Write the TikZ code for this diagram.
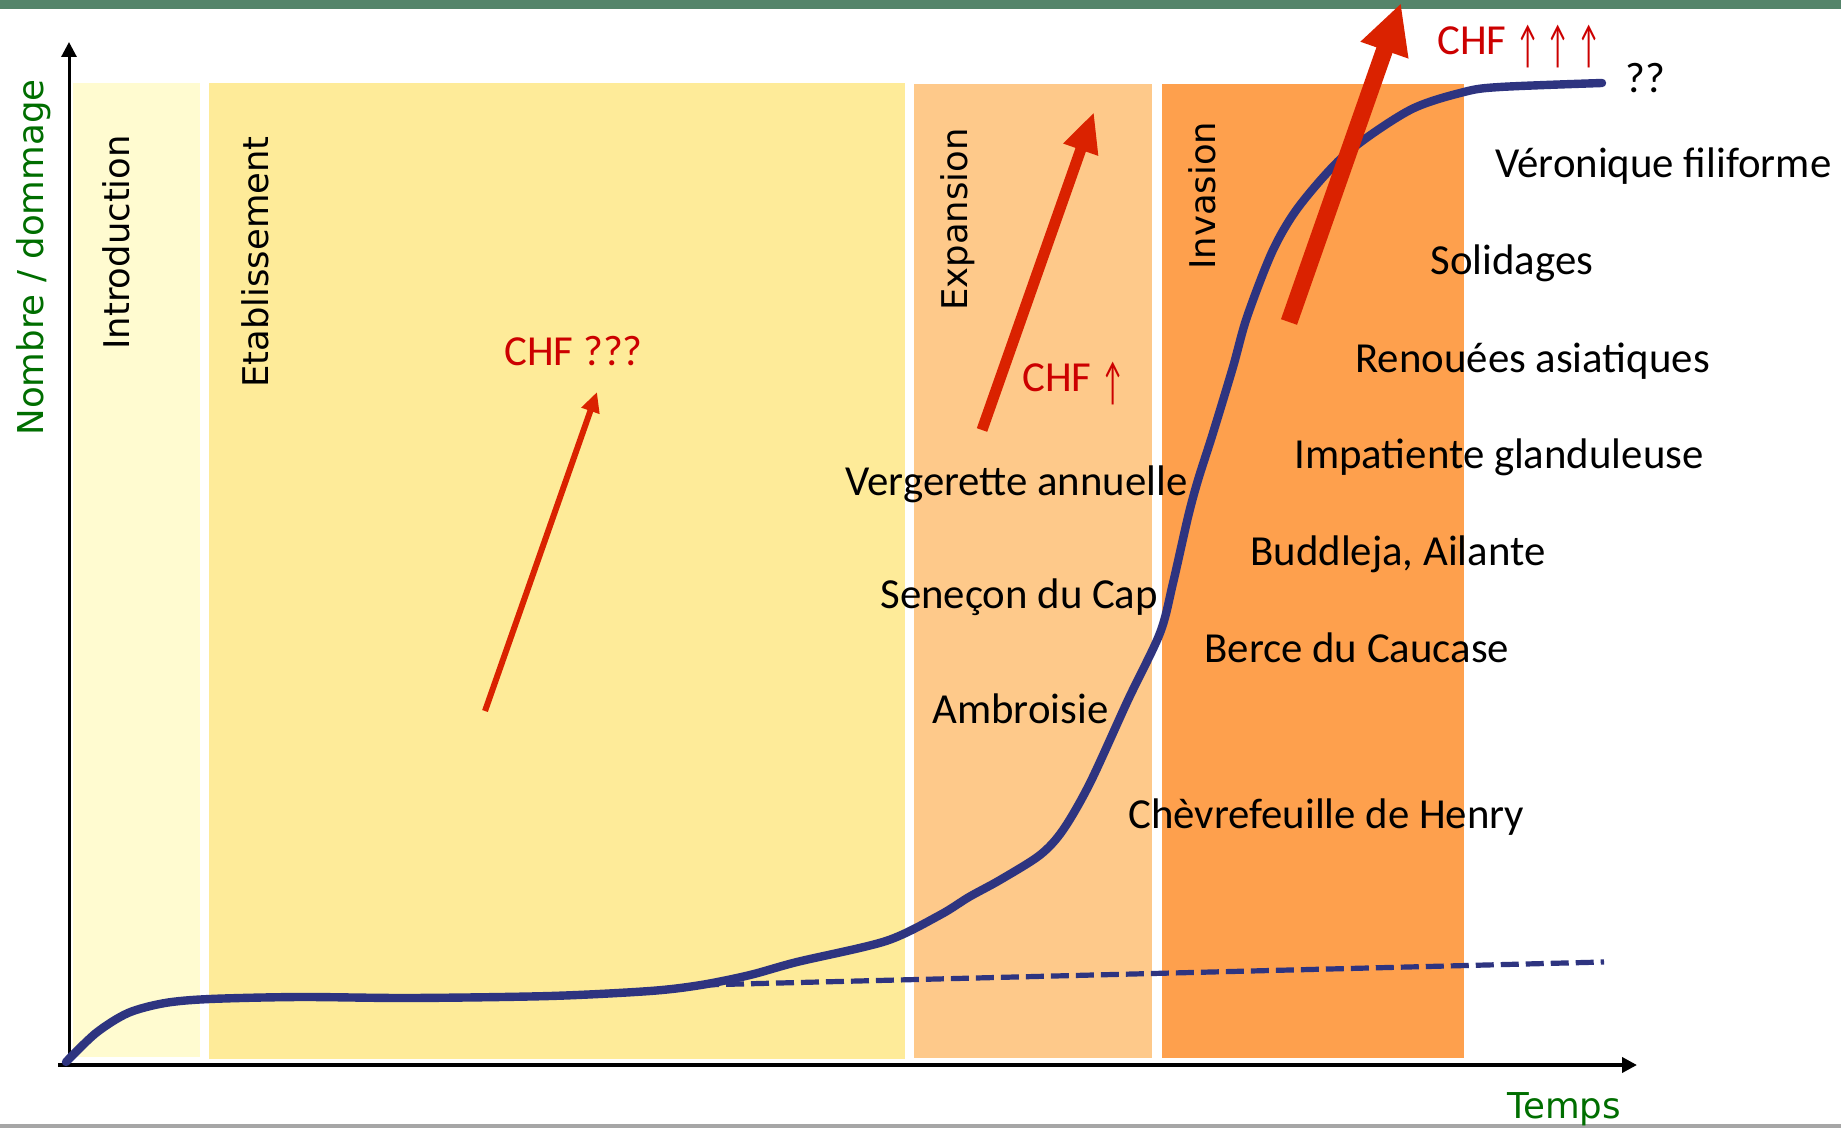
\documentclass[tikz,border=0pt]{standalone}
\usepackage{fontspec}
\setmainfont{Carlito}
\newfontfamily\dvs{DejaVu Sans}
\usetikzlibrary{arrows.meta}
\definecolor{topbar}{RGB}{84,132,106}
\definecolor{bottombar}{RGB}{166,166,166}
\definecolor{cintro}{RGB}{255,251,208}
\definecolor{cetab}{RGB}{254,235,153}
\definecolor{cexpan}{RGB}{254,201,138}
\definecolor{cinvas}{RGB}{254,160,77}
\definecolor{curveblue}{RGB}{46,52,128}
\definecolor{redarrow}{RGB}{218,34,0}
\definecolor{redtext}{RGB}{204,0,0}
\definecolor{greentext}{RGB}{0,110,0}
\newcommand{\uparr}{\scalebox{0.6}[1.2]{\raisebox{-0.15em}{↑}}}
\begin{document}
\begin{tikzpicture}[x=0.5pt,y=-0.5pt,
  species/.style={inner sep=0pt, anchor=base west, font=\fontsize{21.4pt}{25pt}\selectfont},
  chf/.style={species, text=redtext},
  phase/.style={inner sep=0pt, anchor=base west, rotate=90, font=\dvs\fontsize{17.7pt}{20pt}\selectfont},
  axislabel/.style={inner sep=0pt, anchor=base west, text=greentext, font=\dvs\fontsize{17.8pt}{20pt}\selectfont},
  axisline/.style={black, -{Triangle[length=7.5pt,width=7.5pt]}},
  bluecurve/.style={curveblue, line width=4.2pt, line cap=round, line join=round},
  redarr/.style={redarrow}
]
\useasboundingbox (0,0) rectangle (1841,1128);
\fill[white] (0,0) rectangle (1841,1128);
\fill[topbar] (0,0) rectangle (1841,9);
\fill[bottombar] (0,1124) rectangle (1841,1128);
% phase bands
\fill[cintro] (73,83) rectangle (200,1057);
\fill[cetab] (209,83) rectangle (905,1059);
\fill[cexpan] (914,84) rectangle (1152,1058);
\fill[cinvas] (1162,84) rectangle (1464,1058);
% axes
\coordinate (yb) at (69,1067);
\coordinate (yt) at (69,42);
\coordinate (xb) at (58,1065);
\coordinate (xt) at (1637,1065);
\draw[axisline, line width=1.5pt] (yb) -- (yt);
\draw[axisline, line width=2.25pt] (xb) -- (xt);
% dashed baseline trend
\coordinate (ds) at (701,985);
\coordinate (de) at (1604,962);
\draw[curveblue, line width=2.6pt, dash pattern=on 9pt off 3.5pt] (ds) -- (de);
% main curve
\draw[bluecurve] plot[smooth, tension=0.5] coordinates {
(66,1062) (96,1033) (128,1013) (165,1003) (210,999) (300,997) (410,998) (550,996)
(650,991) (701,985) (750,975) (797,962) (886,941) (940,915) (969,897) (1000,880)
(1040,855) (1063,830) (1090,783) (1128,700) (1160,633) (1173,583) (1188,517)
(1198,480) (1213,433) (1233,367) (1247,317) (1273,250) (1300,205) (1347,153)
(1410,110) (1464,92) (1500,87) (1602,83)};
% red arrows
\coordinate (a1s) at (485,711);
\coordinate (a1e) at (597,392);
\coordinate (a2s) at (982,430);
\coordinate (a2e) at (1094,112);
\coordinate (a3s) at (1289,322);
\coordinate (a3e) at (1401,3);
\draw[redarr, line width=3pt, -{Triangle[length=10pt,width=9pt]}] (a1s) -- (a1e);
\draw[redarr, line width=5.5pt, -{Triangle[length=20pt,width=17pt]}] (a2s) -- (a2e);
\draw[redarr, line width=8.5pt, -{Triangle[length=25pt,width=23.5pt]}] (a3s) -- (a3e);
% phase labels
\node[phase] (intro) at (129,350) {Introduction};
\node[phase] (etab) at (268,388) {Etablissement};
\node[phase] (expa) at (967,311) {Expansion};
\node[phase] (inva) at (1215,270) {Invasion};
% axis labels
\node[axislabel, rotate=90] (ylab) at (43,436) {Nombre / dommage};
\node[axislabel] (xlab) at (1507,1118) {Temps};
% cost labels
\node[chf] (chf1) at (504,366) {CHF ???};
\node[chf] (chf2) at (1022,392) {CHF \uparr};
\node[chf] (chf3) at (1437,55) {CHF \uparr\,\uparr\,\uparr};
\node[species] (qq) at (1625,93) {??};
% species
\node[species] (vero) at (1495,178) {Véronique filiforme};
\node[species] (soli) at (1430,275) {Solidages};
\node[species] (reno) at (1355,372) {Renouées asiatiques};
\node[species] (impa) at (1294,468) {Impatiente glanduleuse};
\node[species] (budd) at (1250,565) {Buddleja, Ailante};
\node[species] (berc) at (1204,662) {Berce du Caucase};
\node[species] (chev) at (1128,828) {Chèvrefeuille de Henry};
\node[species] (verg) at (845,495) {Vergerette annuelle};
\node[species] (sene) at (880,608) {Seneçon du Cap};
\node[species] (ambr) at (932,723) {Ambroisie};
\end{tikzpicture}
\end{document}
